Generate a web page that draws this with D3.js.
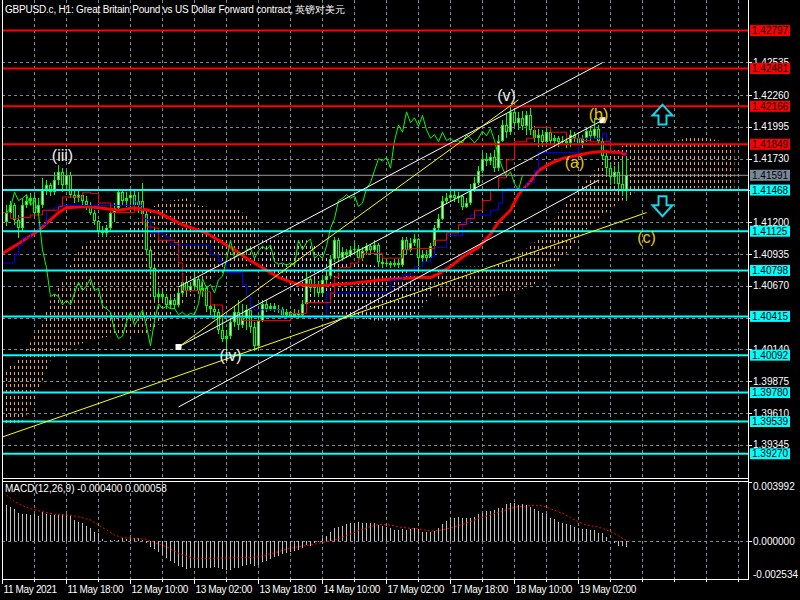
<!DOCTYPE html>
<html><head><meta charset="utf-8">
<script src="https://cdn.jsdelivr.net/npm/d3@7/dist/d3.min.js"></script>
<style>body{margin:0;background:#000}svg{display:block}text{font-family:"Liberation Sans",Arial,sans-serif}</style>
</head><body><svg id="c" width="800" height="600"></svg>
<script>
// ---------------- DATA ----------------
const chartTitle = "GBPUSD.c, H1:  Great Britain Pound vs US Dollar Forward contract, 英镑对美元";
const macdTitle = "MACD(12,26,9) -0.000400 0.000058";

const openP = [1.4120,1.4128,1.4134,1.4122,1.4115,1.4134,1.4138,1.4140,1.4128,1.4134,1.4148,1.4151,1.4145,1.4155,1.4162,1.4151,1.4159,1.4143,1.4140,1.4143,1.4138,1.4134,1.4128,1.4121,1.4113,1.4111,1.4115,1.4128,1.4132,1.4145,1.4138,1.4140,1.4143,1.4134,1.4138,1.4127,1.4097,1.4082,1.4058,1.4060,1.4058,1.4051,1.4055,1.4051,1.4061,1.4070,1.4063,1.4067,1.4073,1.4063,1.4065,1.4050,1.4048,1.4045,1.4030,1.4023,1.4025,1.4037,1.4045,1.4034,1.4040,1.4047,1.4033,1.4017,1.4038,1.4052,1.4048,1.4050,1.4048,1.4048,1.4043,1.4045,1.4042,1.4044,1.4043,1.4052,1.4073,1.4065,1.4068,1.4061,1.4072,1.4075,1.4089,1.4105,1.4090,1.4095,1.4093,1.4097,1.4098,1.4090,1.4096,1.4100,1.4097,1.4101,1.4087,1.4085,1.4086,1.4084,1.4086,1.4084,1.4105,1.4097,1.4103,1.4106,1.4090,1.4093,1.4090,1.4100,1.4115,1.4123,1.4138,1.4140,1.4143,1.4140,1.4142,1.4133,1.4136,1.4148,1.4153,1.4163,1.4173,1.4171,1.4174,1.4165,1.4188,1.4201,1.4195,1.4212,1.4203,1.4207,1.4200,1.4209,1.4197,1.4190,1.4193,1.4187,1.4195,1.4188,1.4190,1.4187,1.4188,1.4186,1.4193,1.4190,1.4186,1.4190,1.4196,1.4192,1.4198,1.4188,1.4175,1.4165,1.4158,1.4162,1.4152,1.4147];
const highP = [1.4134,1.4138,1.4136,1.4126,1.4140,1.4143,1.4144,1.4143,1.4140,1.4157,1.4155,1.4153,1.4162,1.4168,1.4165,1.4163,1.4162,1.4147,1.4147,1.4144,1.4142,1.4137,1.4130,1.4122,1.4117,1.4118,1.4134,1.4136,1.4148,1.4148,1.4145,1.4147,1.4147,1.4145,1.4153,1.4128,1.4098,1.4083,1.4065,1.4063,1.4059,1.4058,1.4057,1.4063,1.4073,1.4073,1.4070,1.4078,1.4075,1.4068,1.4067,1.4055,1.4052,1.4048,1.4040,1.4030,1.4040,1.4050,1.4055,1.4052,1.4051,1.4048,1.4037,1.4042,1.4055,1.4055,1.4053,1.4053,1.4051,1.4049,1.4048,1.4046,1.4048,1.4047,1.4055,1.4080,1.4075,1.4073,1.4071,1.4076,1.4078,1.4093,1.4108,1.4107,1.4099,1.4098,1.4100,1.4103,1.4101,1.4099,1.4103,1.4102,1.4105,1.4103,1.4090,1.4089,1.4088,1.4089,1.4089,1.4108,1.4108,1.4107,1.4110,1.4107,1.4097,1.4097,1.4103,1.4118,1.4127,1.4142,1.4144,1.4147,1.4147,1.4145,1.4143,1.4140,1.4152,1.4158,1.4167,1.4178,1.4178,1.4178,1.4180,1.4193,1.4205,1.4210,1.4218,1.4215,1.4212,1.4213,1.4213,1.4215,1.4200,1.4198,1.4197,1.4199,1.4198,1.4193,1.4192,1.4192,1.4191,1.4197,1.4195,1.4193,1.4193,1.4199,1.4200,1.4207,1.4201,1.4190,1.4180,1.4170,1.4167,1.4169,1.4172,1.4175];
const lowP = [1.4117,1.4126,1.4118,1.4107,1.4113,1.4132,1.4134,1.4125,1.4126,1.4132,1.4143,1.4142,1.4143,1.4151,1.4145,1.4147,1.4140,1.4136,1.4137,1.4134,1.4130,1.4126,1.4118,1.4110,1.4108,1.4108,1.4113,1.4120,1.4130,1.4134,1.4133,1.4132,1.4130,1.4128,1.4120,1.4093,1.4076,1.4055,1.4055,1.4055,1.4048,1.4048,1.4048,1.4049,1.4058,1.4060,1.4062,1.4063,1.4060,1.4058,1.4045,1.4043,1.4040,1.4027,1.4020,1.4012,1.4023,1.4033,1.4030,1.4032,1.4030,1.4028,1.4013,1.4015,1.4037,1.4045,1.4046,1.4045,1.4044,1.4040,1.4041,1.4038,1.4040,1.4039,1.4042,1.4050,1.4062,1.4058,1.4058,1.4059,1.4068,1.4073,1.4087,1.4087,1.4088,1.4090,1.4091,1.4093,1.4087,1.4088,1.4093,1.4093,1.4095,1.4083,1.4082,1.4083,1.4082,1.4083,1.4082,1.4083,1.4093,1.4095,1.4100,1.4080,1.4087,1.4087,1.4088,1.4097,1.4113,1.4122,1.4135,1.4138,1.4137,1.4136,1.4130,1.4132,1.4134,1.4145,1.4151,1.4161,1.4167,1.4168,1.4162,1.4163,1.4187,1.4190,1.4193,1.4200,1.4197,1.4197,1.4193,1.4193,1.4187,1.4183,1.4183,1.4184,1.4185,1.4183,1.4183,1.4184,1.4182,1.4183,1.4187,1.4182,1.4182,1.4187,1.4188,1.4189,1.4184,1.4172,1.4159,1.4151,1.4152,1.4145,1.4142,1.4138];
const closeP = [1.4128,1.4134,1.4122,1.4115,1.4134,1.4138,1.4140,1.4128,1.4134,1.4148,1.4151,1.4145,1.4155,1.4162,1.4151,1.4159,1.4143,1.4140,1.4143,1.4138,1.4134,1.4128,1.4121,1.4113,1.4111,1.4115,1.4128,1.4132,1.4145,1.4138,1.4140,1.4143,1.4134,1.4138,1.4127,1.4097,1.4082,1.4058,1.4060,1.4058,1.4051,1.4055,1.4051,1.4061,1.4070,1.4063,1.4067,1.4073,1.4063,1.4065,1.4050,1.4048,1.4045,1.4030,1.4023,1.4025,1.4037,1.4045,1.4034,1.4040,1.4047,1.4033,1.4017,1.4038,1.4052,1.4048,1.4050,1.4048,1.4048,1.4043,1.4045,1.4042,1.4044,1.4043,1.4052,1.4073,1.4065,1.4068,1.4061,1.4072,1.4075,1.4089,1.4105,1.4090,1.4095,1.4093,1.4097,1.4098,1.4090,1.4096,1.4100,1.4097,1.4101,1.4087,1.4085,1.4086,1.4084,1.4086,1.4084,1.4105,1.4097,1.4103,1.4106,1.4090,1.4093,1.4090,1.4100,1.4115,1.4123,1.4138,1.4140,1.4143,1.4140,1.4142,1.4133,1.4136,1.4148,1.4153,1.4163,1.4173,1.4171,1.4174,1.4165,1.4188,1.4201,1.4195,1.4212,1.4203,1.4207,1.4200,1.4209,1.4197,1.4190,1.4193,1.4187,1.4195,1.4188,1.4190,1.4187,1.4188,1.4186,1.4193,1.4190,1.4186,1.4190,1.4196,1.4192,1.4198,1.4188,1.4175,1.4165,1.4158,1.4162,1.4152,1.4147,1.41591];

// Ichimoku lines (bar index where value changes, value)
const tenkanIdx = [-1,1,3,6,9,13,14,19,21,23,26,32,34,35,37,38,42,43,44,49,51,54,59,71,75,81,82,83,86,88,89,94,99,101,107,110,113,115,117,119,121,123,125,127,130,132,136,140,144,146,151,154];
const tenkanVal = [1.4128,1.4123,1.4124,1.4126,1.4130,1.4133,1.4141,1.4145,1.4144,1.4136,1.4128,1.4130,1.4120,1.4116,1.4115,1.4105,1.4103,1.4086,1.4063,1.4062,1.4051,1.4041,1.4038,1.4044,1.4053,1.4061,1.4074,1.4082,1.4086,1.4090,1.4094,1.4090,1.4097,1.4098,1.4105,1.4111,1.4118,1.4123,1.4130,1.4138,1.4147,1.4157,1.4172,1.4187,1.4190,1.4199,1.4195,1.4190,1.4188,1.4187,1.4178,1.4176];
const kijunIdx = [-1,2,3,4,6,8,10,12,13,32,33,34,35,36,39,40,41,51,53,55,59,60,61,69,80,96,99,101,102,104,106,107,110,114,116,121,123,124,125,130,132,133,143,149,150,151];
const kijunVal = [1.4086,1.4093,1.4101,1.4107,1.4112,1.4118,1.4130,1.4132,1.4134,1.4137,1.4134,1.4123,1.4122,1.4111,1.4109,1.4107,1.4101,1.4093,1.4087,1.4078,1.4068,1.4058,1.4047,1.4041,1.4061,1.4072,1.4076,1.4080,1.4083,1.4087,1.4091,1.4099,1.4109,1.4120,1.4126,1.4130,1.4136,1.4147,1.4148,1.4153,1.4163,1.4178,1.4190,1.4194,1.4188,1.4178];
const chikouShift = 26;
// thick red moving average
const maIdx = [-1,3,8,13,15,20,23,28,32,34,38,44,50,53,57,60,61,68,73,78,86,94,103,106,108,111,114,118,121,123,126,128,131,133,136,139,143,146,149,153,155];
const maVal = [1.4094,1.4102,1.4113,1.4128,1.4132,1.4133,1.4132,1.4130,1.4132,1.4131,1.4128,1.4118,1.4111,1.4105,1.4097,1.4090,1.4088,1.4074,1.4068,1.4067,1.4069,1.4072,1.4074,1.4074,1.4077,1.4083,1.4091,1.4099,1.4110,1.4120,1.4130,1.4143,1.4154,1.4163,1.4169,1.4173,1.4176,1.4178,1.4179,1.4178,1.4177];
// Kumo (senkou spans, already shifted forward)
const cloudIdx = [-1,4,7,9,11,13,15,18,20,23,26,29,32,35,39,45,48,52,57,60,62,64,70,75,80,85,92,98,103,106,108,115,122,126,130,134,138,142,146,150,154,158,162,166,170,174,178,182];
const spanA = [1.3995,1.4008,1.4026,1.4038,1.4055,1.4066,1.4078,1.4097,1.4103,1.4108,1.4108,1.4109,1.4120,1.4130,1.4137,1.4140,1.4134,1.4132,1.4132,1.4126,1.4118,1.4082,1.4070,1.4051,1.4044,1.4043,1.4038,1.4038,1.4045,1.4059,1.4082,1.4083,1.4083,1.4090,1.4098,1.4108,1.4128,1.4143,1.4159,1.4176,1.4184,1.4187,1.4188,1.4187,1.4190,1.4191,1.4188,1.4187];
const spanB = [1.3949,1.3953,1.3972,1.3988,1.4005,1.4009,1.4013,1.4018,1.4020,1.4023,1.4025,1.4026,1.4026,1.4027,1.4037,1.4055,1.4065,1.4075,1.4082,1.4083,1.4085,1.4108,1.4108,1.4105,1.4093,1.4087,1.4084,1.4080,1.4078,1.4078,1.4058,1.4057,1.4058,1.4062,1.4065,1.4072,1.4087,1.4101,1.4118,1.4128,1.4138,1.4147,1.4148,1.4148,1.4148,1.4149,1.4148,1.4148];

// MACD
const macdHist = [0.002445,0.002288,0.002153,0.001884,0.001862,0.001817,0.001772,0.001817,0.001727,0.001951,0.001839,0.001794,0.001772,0.001772,0.001817,0.001817,0.001772,0.001436,0.001323,0.001211,0.001032,0.000875,0.000606,0.000538,0.000135,0.000020,0.000090,0.000067,0.000067,0.000202,0.000135,0.000247,0.000202,0.000247,0.000090,-0.000135,-0.000359,-0.000516,-0.000740,-0.000920,-0.001144,-0.001323,-0.001480,-0.001637,-0.001727,-0.001862,-0.001817,-0.001817,-0.001772,-0.001772,-0.001772,-0.001772,-0.001705,-0.001817,-0.001862,-0.001929,-0.001929,-0.001817,-0.001817,-0.001637,-0.001593,-0.001548,-0.001637,-0.001593,-0.001413,-0.001301,-0.001189,-0.001077,-0.000964,-0.000875,-0.000763,-0.000695,-0.000650,-0.000583,-0.000426,-0.000247,-0.000292,-0.000135,-0.000022,0.000202,0.000381,0.000606,0.000920,0.000987,0.001054,0.001144,0.001211,0.001211,0.001279,0.001256,0.001211,0.001256,0.001211,0.001099,0.001054,0.000987,0.000875,0.000763,0.000763,0.000807,0.000763,0.000807,0.000875,0.000807,0.000606,0.000606,0.000650,0.000695,0.000875,0.001144,0.001368,0.001548,0.001593,0.001615,0.001548,0.001548,0.001593,0.001660,0.001817,0.001929,0.002041,0.002064,0.002108,0.002221,0.002221,0.002512,0.002557,0.002557,0.002445,0.002490,0.002445,0.002333,0.002176,0.002041,0.001929,0.001817,0.001593,0.001480,0.001323,0.001211,0.001144,0.001099,0.000987,0.000875,0.000830,0.000830,0.000763,0.000763,0.000538,0.000538,0.000314,0.000045,-0.000135,-0.000314,-0.000292,-0.000400];
const signalIdx = [0,2,4,6,9,12,15,18,21,23,25,27,29,32,35,38,40,42,44,47,50,55,60,63,65,68,70,73,76,78,82,85,88,91,93,96,98,101,103,106,108,110,113,116,118,121,123,126,128,131,134,135,137,139,141,143,145,148,150,152,155];
const signalVal = [0.003118,0.002669,0.002400,0.002198,0.001996,0.001817,0.001772,0.001660,0.001436,0.001099,0.000763,0.000426,0.000247,0.000202,0.000135,-0.000179,-0.000359,-0.000650,-0.000920,-0.001144,-0.001144,-0.001122,-0.001099,-0.001032,-0.000920,-0.000695,-0.000516,-0.000359,-0.000247,-0.000135,0.000090,0.000381,0.000718,0.000987,0.001144,0.001099,0.000964,0.000875,0.000830,0.000695,0.000718,0.000830,0.001054,0.001323,0.001548,0.001772,0.001951,0.002221,0.002333,0.002400,0.002400,0.002288,0.002086,0.001884,0.001593,0.001323,0.001099,0.000964,0.000763,0.000516,0.000058];
const macdTicks = [0.003992,0.000000,-0.002534];

// Axis ticks and labels
const priceTicks = [1.42535,1.42260,1.41995,1.41730,1.41465,1.41200,1.40935,1.40670,1.40405,1.40140,1.39875,1.39610,1.39345];
const timeLabels = ["11 May 2021","11 May 18:00","12 May 10:00","13 May 02:00","13 May 18:00","14 May 10:00","17 May 02:00","17 May 18:00","18 May 10:00","19 May 02:00"];
const timeLabelIdx = [null,15,31,47,63,79,95,111,127,143];

// Horizontal levels
const redLevels = [1.42797,1.42481,1.42166,1.41849];
const cyanLevels = [1.41468,1.41125,1.40798,1.40415,1.40092,1.39780,1.39539,1.39270];
const bidPrice = 1.41591;

// Trend lines [idx1, price1, idx2, price2]
const whiteLines = [[43,1.40660,149,1.42530],[43,1.40160,149,1.42050],[43,1.39660,148,1.41550]];
const yellowLines = [[-1,1.39410,160,1.41280],[43,1.40160,128,1.42220]];
const markers = [[43,1.40160],[149,1.42050]];
// Wave labels
const waveText = ["(iii)","(iv)","(v)","(a)","(b)","(c)"];
const waveIdx = [14,56,125,142,148,160];
const wavePrice = [1.41760,1.40090,1.42260,1.41700,1.42100,1.41070];
const waveKind = ["main","main","main","corr","corr","corr"];
// Arrows
const arrowIdx = [164,164];
const arrowPrice = [1.42180,1.41250];
const arrowDir = ["up","down"];

// ---------------- DRAW ----------------
const W=800,H=600,L=2,R=748,mainBot=478,macdTop=481,macdBot=579;
const svg=d3.select("#c");
svg.append("rect").attr("width",W).attr("height",H).attr("fill","#000");
const x=d3.scaleLinear().domain([-1.125,185.375]).range([L,R]);
const y=d3.scaleLinear().domain([1.39068,1.43052]).range([mainBot,0]);
const ym=d3.scaleLinear().domain([-0.002534,0.003992]).range([macdBot,macdTop+1]);

const defs=svg.append("defs");
defs.append("clipPath").attr("id","cm").append("rect").attr("x",L).attr("y",0).attr("width",R-L).attr("height",mainBot);
defs.append("clipPath").attr("id","cd").append("rect").attr("x",L).attr("y",macdTop).attr("width",R-L).attr("height",macdBot-macdTop);
defs.append("clipPath").attr("id","ca").append("rect").attr("x",R).attr("y",0).attr("width",W-R).attr("height",macdBot);
function pat(id,col){
  const p=defs.append("pattern").attr("id",id).attr("patternUnits","userSpaceOnUse").attr("x",x(0)-0.5).attr("y",0).attr("width",4).attr("height",6);
  p.append("rect").attr("x",0).attr("y",0).attr("width",1).attr("height",3).attr("fill",col);
}
pat("kUp","#F4A460"); pat("kDn","#D8BFD8");

const grid="#778899";
const vIdx=d3.range(7,186,8).filter(i=>x(i)<R);
const gGrid=svg.append("g").attr("shape-rendering","crispEdges");
gGrid.selectAll("line.v").data(vIdx).join("line").attr("x1",d=>x(d)).attr("x2",d=>x(d)).attr("y1",0).attr("y2",mainBot)
  .attr("stroke",grid).attr("stroke-dasharray","3,3");
gGrid.selectAll("line.v2").data(vIdx).join("line").attr("x1",d=>x(d)).attr("x2",d=>x(d)).attr("y1",macdTop).attr("y2",macdBot)
  .attr("stroke",grid).attr("stroke-dasharray","3,3");
gGrid.selectAll("line.h").data(priceTicks).join("line").attr("x1",L).attr("x2",R).attr("y1",d=>Math.round(y(d))+0.5).attr("y2",d=>Math.round(y(d))+0.5)
  .attr("stroke",grid).attr("stroke-dasharray","3,3");
gGrid.append("line").attr("x1",L).attr("x2",R).attr("y1",Math.round(ym(0))+0.5).attr("y2",Math.round(ym(0))+0.5).attr("stroke",grid).attr("stroke-dasharray","3,3");

// main plot
const gm=svg.append("g").attr("clip-path","url(#cm)");
const cloud=cloudIdx.map((d,k)=>({i:d,a:spanA[k],b:spanB[k]}));
const segs=[];let cur=[cloud[0]];let sgn=cloud[0].a>=cloud[0].b;
for(let k=1;k<cloud.length;k++){
  const p=cloud[k-1],q=cloud[k],s=q.a>=q.b;
  if(s===sgn){cur.push(q);}
  else{const dp=p.a-p.b,dq=q.a-q.b,t=dp/(dp-dq);
    const c={i:p.i+t*(q.i-p.i),a:p.a+t*(q.a-p.a)};c.b=c.a;
    cur.push(c);segs.push({up:sgn,pts:cur});cur=[c,q];sgn=s;}
}
segs.push({up:sgn,pts:cur});
const area=d3.area().x(d=>x(d.i)).y0(d=>y(d.b)).y1(d=>y(d.a));
gm.selectAll("path.kumo").data(segs).join("path").attr("d",d=>area(d.pts)).attr("fill",d=>d.up?"url(#kUp)":"url(#kDn)");

// candles
const bars=closeP.map((c,i)=>({i,o:openP[i],h:highP[i],l:lowP[i],c}));
const gc=gm.append("g").attr("shape-rendering","crispEdges");
gc.selectAll("line").data(bars).join("line").attr("x1",d=>x(d.i)).attr("x2",d=>x(d.i)).attr("y1",d=>y(d.h)).attr("y2",d=>y(d.l)).attr("stroke","#00FF00");
gc.selectAll("rect.o").data(bars).join("rect").attr("x",d=>x(d.i)-1.5).attr("width",3)
  .attr("y",d=>y(Math.max(d.o,d.c))).attr("height",d=>Math.max(1,Math.abs(y(d.o)-y(d.c)))).attr("fill","#00FF00");
gc.selectAll("rect.in").data(bars.filter(d=>Math.abs(y(d.o)-y(d.c))>2.5)).join("rect").attr("x",d=>x(d.i)-0.5).attr("width",1)
  .attr("y",d=>y(Math.max(d.o,d.c))+1).attr("height",d=>Math.abs(y(d.o)-y(d.c))-2).attr("fill",d=>d.c>=d.o?"#FFFFFF":"#000000");

// indicator lines
const lastI=closeP.length-1;
const stepPts=(idx,val)=>{const p=idx.map((d,k)=>[d,val[k]]);p.push([lastI,val[val.length-1]]);return p;};
gm.append("path").attr("d",d3.line().x(d=>x(d[0])).y(d=>y(d[1]))(maIdx.map((d,k)=>[d,maVal[k]]))).attr("fill","none").attr("stroke","#FF0000").attr("stroke-width",3);
gm.append("path").attr("d",d3.line().x(d=>x(d[0])).y(d=>y(d[1])).curve(d3.curveStepAfter)(stepPts(kijunIdx,kijunVal))).attr("fill","none").attr("stroke","#0000FF").attr("stroke-width",1);
gm.append("path").attr("d",d3.line().x(d=>x(d[0])).y(d=>y(d[1])).curve(d3.curveStepAfter)(stepPts(tenkanIdx,tenkanVal))).attr("fill","none").attr("stroke","#FF0000").attr("stroke-width",1);
const chik=closeP.slice(chikouShift).map((c,k)=>[k,c]);
gm.append("path").attr("d",d3.line().x(d=>x(d[0])).y(d=>y(d[1]))(chik)).attr("fill","none").attr("stroke","#00FF00").attr("stroke-width",1);

// horizontal levels
gm.append("line").attr("x1",L).attr("x2",R).attr("y1",y(bidPrice)).attr("y2",y(bidPrice)).attr("stroke","#9a9a9a").attr("stroke-width",1);
gm.selectAll("line.red").data(redLevels).join("line").attr("x1",L).attr("x2",R).attr("y1",d=>y(d)).attr("y2",d=>y(d)).attr("stroke","#FF0000").attr("stroke-width",2);
gm.selectAll("line.cy").data(cyanLevels).join("line").attr("x1",L).attr("x2",R).attr("y1",d=>y(d)).attr("y2",d=>y(d)).attr("stroke","#00FFFF").attr("stroke-width",2);

// trend lines
gm.selectAll("line.tw").data(whiteLines).join("line").attr("x1",d=>x(d[0])).attr("y1",d=>y(d[1])).attr("x2",d=>x(d[2])).attr("y2",d=>y(d[3])).attr("stroke","#FFFFFF").attr("stroke-width",1);
gm.selectAll("line.ty").data(yellowLines).join("line").attr("x1",d=>x(d[0])).attr("y1",d=>y(d[1])).attr("x2",d=>x(d[2])).attr("y2",d=>y(d[3])).attr("stroke","#FFFF00").attr("stroke-width",1);
gm.selectAll("rect.mk").data(markers).join("rect").attr("x",d=>x(d[0])-3).attr("y",d=>y(d[1])-3).attr("width",6).attr("height",6).attr("fill","#FFFFFF");

// wave labels
gm.selectAll("text.w").data(waveText).join("text").attr("x",(d,k)=>x(waveIdx[k])).attr("y",(d,k)=>y(wavePrice[k])).attr("text-anchor","middle").attr("dominant-baseline","central")
  .attr("font-size",16).attr("fill",(d,k)=>waveKind[k]==="main"?"#F0F0F0":"#E8C800").text(d=>d);

// arrows
const upShape=[[0,0],[-10,11],[-4,11],[-4,20],[4,20],[4,11],[10,11]];
gm.selectAll("polygon.ar").data(arrowIdx).join("polygon").attr("points",(d,k)=>{
  const cx=x(d),cy=y(arrowPrice[k]),sg=arrowDir[k]==="up"?1:-1;
  return upShape.map(p=>[cx+p[0],cy+sg*p[1]].join(",")).join(" ");
}).attr("fill","none").attr("stroke","#19D3E6").attr("stroke-width",2);

// MACD panel
const gd=svg.append("g").attr("clip-path","url(#cd)");
gd.append("g").attr("shape-rendering","crispEdges").selectAll("line").data(macdHist).join("line")
  .attr("x1",(d,i)=>x(i)).attr("x2",(d,i)=>x(i)).attr("y1",ym(0)).attr("y2",d=>ym(d)).attr("stroke","#C0C0C0");
gd.append("path").attr("d",d3.line().x(d=>x(d[0])).y(d=>ym(d[1]))(signalIdx.map((d,k)=>[d,signalVal[k]])))
  .attr("fill","none").attr("stroke","#FF0000").attr("stroke-width",1).attr("stroke-dasharray","2,2");

// frame
const fr=svg.append("g").attr("stroke","#FFFFFF").attr("shape-rendering","crispEdges");
fr.append("line").attr("x1",L+0.5).attr("x2",L+0.5).attr("y1",0).attr("y2",macdBot);
fr.append("line").attr("x1",R+0.5).attr("x2",R+0.5).attr("y1",0).attr("y2",macdBot+1);
fr.append("line").attr("x1",L).attr("x2",R).attr("y1",mainBot+0.5).attr("y2",mainBot+0.5);
fr.append("line").attr("x1",L).attr("x2",R).attr("y1",macdTop+0.5).attr("y2",macdTop+0.5);
fr.append("line").attr("x1",L).attr("x2",R).attr("y1",macdBot+0.5).attr("y2",macdBot+0.5);

// right price axis
const ga=svg.append("g").attr("clip-path","url(#ca)");
ga.selectAll("line.pt").data(priceTicks).join("line").attr("x1",R).attr("x2",R+4).attr("y1",d=>Math.round(y(d))+0.5).attr("y2",d=>Math.round(y(d))+0.5).attr("stroke","#fff").attr("shape-rendering","crispEdges");
ga.selectAll("text.pt").data(priceTicks).join("text").attr("x",R+5).attr("y",d=>y(d)+3.6).attr("font-size",10).attr("fill","#fff").text(d=>d.toFixed(5));
const lvl=[...redLevels.map(v=>({v,bg:"#FF0000"})),...cyanLevels.map(v=>({v,bg:"#00FFFF"})),{v:bidPrice,bg:"#778899"}];
ga.selectAll("rect.lv").data(lvl).join("rect").attr("x",R+2).attr("y",d=>y(d.v)-5.5).attr("width",40).attr("height",11).attr("fill",d=>d.bg);
ga.selectAll("text.lv").data(lvl).join("text").attr("x",R+4).attr("y",d=>y(d.v)+3.6).attr("font-size",10).attr("fill","#000").text(d=>d.v.toFixed(5));
ga.selectAll("line.mt").data(macdTicks).join("line").attr("x1",R).attr("x2",R+4).attr("y1",d=>Math.round(ym(d))+0.5).attr("y2",d=>Math.round(ym(d))+0.5).attr("stroke","#fff");
ga.selectAll("text.mt").data(macdTicks).join("text").attr("x",R+5).attr("y",(d,k)=>k===0?ym(d)+8:(k===macdTicks.length-1?ym(d)-1:ym(d)+3.6)).attr("font-size",10).attr("fill","#fff").text(d=>d.toFixed(6));

// time axis
const ta=svg.append("g").attr("shape-rendering","crispEdges");
ta.selectAll("line.mi").data(vIdx).join("line").attr("x1",d=>x(d)).attr("x2",d=>x(d)).attr("y1",macdBot).attr("y2",macdBot+3).attr("stroke","#fff");
const tl=timeLabels.map((t,k)=>({t,px:timeLabelIdx[k]===null?L+0.5:x(timeLabelIdx[k])}));
ta.selectAll("line.ma").data(tl).join("line").attr("x1",d=>d.px).attr("x2",d=>d.px).attr("y1",macdBot).attr("y2",macdBot+5).attr("stroke","#fff");
svg.selectAll("text.tl").data(tl).join("text").attr("x",d=>d.px+1).attr("y",593).attr("font-size",10).attr("letter-spacing",-0.35).attr("fill","#fff").text(d=>d.t);

// titles
svg.append("text").attr("x",5).attr("y",13).attr("font-size",10).attr("letter-spacing",-0.2).attr("fill","#fff").text(chartTitle);
svg.append("text").attr("x",5).attr("y",492).attr("font-size",10).attr("fill","#fff").text(macdTitle);
</script></body></html>
